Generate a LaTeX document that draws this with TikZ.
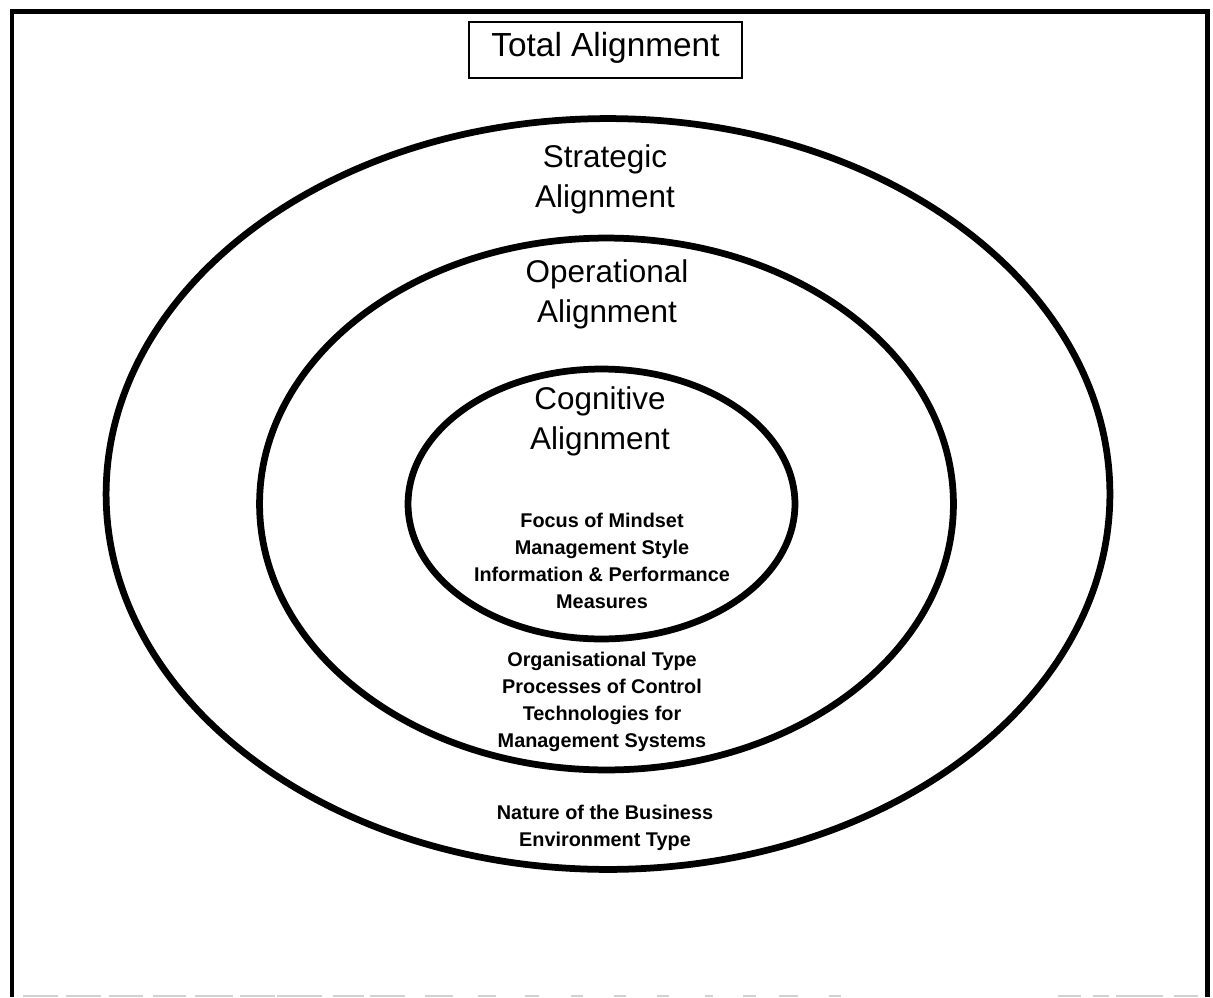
\documentclass[tikz,border=0pt]{standalone}
\usepackage{fontspec}
\setmainfont{Liberation Sans}
\begin{document}
\begin{tikzpicture}[x=0.02cm,y=-0.02cm,
  ring/.style={line width=0.135cm, black},
  frameline/.style={line width=0.1cm, black},
  heading/.style={align=center, anchor=base,
    font=\fontsize{17.9pt}{22.6pt}\selectfont},
  detail/.style={align=center, anchor=base,
    font=\bfseries\fontsize{11.3pt}{15.2pt}\selectfont},
  titlebox/.style={draw, line width=0.03cm, inner sep=0pt,
    minimum width=5.46cm, minimum height=1.12cm,
    text height=0.46cm, text depth=0.2cm,
    font=\fontsize{19pt}{22pt}\selectfont}]
  \useasboundingbox (0,0) rectangle (1213,997);

  % outer frame, open at the bottom
  \draw[frameline] (12,997) -- (12,12) -- (1207,12) -- (1207,997);
  % faint broken rule along the bottom edge
  \foreach \a/\b in {23/58,66/101,109/143,153/186,195/233,240/275,277/322,
      333/364,370/405,425/453,478/496,525/539,571/583,614/626,657/669,
      705/713,743/756,779/798,829/841,1058/1081,1093/1109,1116/1163,1174/1198}
    \draw[gray!35, line width=0.04cm] (\a,996) -- (\b,996);

  % nested alignment rings
  \draw[ring] (608,494) ellipse [x radius=10.04cm, y radius=7.51cm];
  \draw[ring] (606.5,504) ellipse [x radius=6.94cm, y radius=5.32cm];
  \draw[ring] (601.5,504) ellipse [x radius=3.87cm, y radius=2.70cm];

  % title
  \node[titlebox] (total) at (605.5,50) {Total Alignment};

  % ring headings (anchored on the baseline of their last line)
  \node[heading] (strategic) at (605,207) {Strategic\\Alignment};
  \node[heading] (operational) at (607,322) {Operational\\Alignment};
  \node[heading] (cognitive) at (600,449) {Cognitive\\Alignment};

  % ring contents
  \node[detail] (mindset) at (602,608)
    {Focus of Mindset\\Management Style\\Information \& Performance\\Measures};
  \node[detail] (orgtype) at (602,747)
    {Organisational Type\\Processes of Control\\Technologies for\\Management Systems};
  \node[detail] (business) at (605,846)
    {Nature of the Business\\Environment Type};
\end{tikzpicture}
\end{document}
